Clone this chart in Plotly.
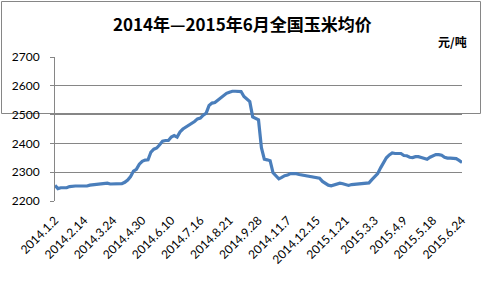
import plotly.graph_objects as go

title_text = "2014年—2015年6月全国玉米均价"
unit_text = "元/吨"
tick_labels = ["2014.1.2", "2014.2.14", "2014.3.24", "2014.4.30", "2014.6.10",
               "2014.7.16", "2014.8.21", "2014.9.28", "2014.11.7", "2014.12.15",
               "2015.1.21", "2015.3.3", "2015.4.9", "2015.5.18", "2015.6.24"]
prices = [
    2254, 2243, 2246, 2247, 2246, 2250, 2252, 2252, 2252, 2252,
    2252, 2252, 2255, 2256, 2256, 2258, 2260, 2260, 2262, 2259,
    2259, 2259, 2259, 2260, 2265, 2273, 2285, 2304, 2310, 2328,
    2338, 2342, 2343, 2370, 2380, 2384, 2395, 2408, 2410, 2410,
    2422, 2427, 2422, 2440, 2450, 2456, 2465, 2470, 2476, 2485,
    2488, 2498, 2505, 2532, 2540, 2542, 2550, 2557, 2567, 2574,
    2578, 2581, 2581, 2581, 2580, 2563, 2552, 2545, 2492, 2488,
    2482, 2385, 2345, 2343, 2340, 2298, 2288, 2277, 2282, 2288,
    2290, 2295, 2295, 2295, 2292, 2290, 2288, 2288, 2286, 2284,
    2281, 2279, 2268, 2262, 2255, 2253, 2256, 2260, 2262, 2260,
    2256, 2254, 2257, 2258, 2260, 2262, 2262, 2263, 2263, 2274,
    2283, 2295, 2315, 2335, 2350, 2360, 2367, 2365, 2365, 2365,
    2358, 2357, 2352, 2351, 2354, 2354, 2351, 2347, 2345, 2352,
    2356, 2361, 2361, 2359, 2352, 2349, 2349, 2349, 2347, 2341,
    2334,
]
y_ticks = [2200, 2300, 2400, 2500, 2600, 2700]

n = len(prices)
step = (n - 1) // (len(tick_labels) - 1)
x_idx = list(range(n))

W, H = 483, 291
ml, mr, mt, mb = 55, 21, 57, 90
pw, ph = W - ml - mr, H - mt - mb

fig = go.Figure()
fig.add_trace(go.Scatter(x=x_idx, y=prices, mode="lines",
                         line=dict(color="#4a7ebb", width=3.2), hoverinfo="skip"))

fig.update_layout(
    width=W, height=H,
    margin=dict(l=ml, r=mr, t=mt, b=mb),
    paper_bgcolor="white", plot_bgcolor="white",
    showlegend=False,
    font=dict(family="Lato, Liberation Sans, sans-serif", size=12, color="black"),
    xaxis=dict(range=[0, n - 1], tickmode="array",
               tickvals=[i * step for i in range(len(tick_labels))],
               ticktext=tick_labels, tickangle=-45, showgrid=False,
               zeroline=False, showline=False, ticks="", ticklabelstandoff=9),
    yaxis=dict(range=[2200, 2700], tickmode="array", tickvals=y_ticks,
               showgrid=True, gridcolor="#868686", gridwidth=1, zeroline=False,
               showline=True, linecolor="#868686", linewidth=1,
               ticks="outside", ticklen=4, tickcolor="#868686",
               ticklabelstandoff=8),
    annotations=[
        dict(text="<b>" + title_text + "</b>", xref="paper", yref="paper",
             x=(242 - ml) / pw, y=1 + (mt - 24) / ph, xanchor="center", yanchor="middle",
             showarrow=False,
             font=dict(family="Noto Sans CJK SC", size=17, color="black")),
        dict(text="<b>" + unit_text + "</b>", xref="paper", yref="paper",
             x=(469 - ml) / pw, y=1 + (mt - 42) / ph, xanchor="right", yanchor="middle",
             showarrow=False,
             font=dict(family="Noto Sans CJK SC", size=12, color="black")),
    ],
    shapes=[
        dict(type="rect", xref="paper", yref="paper",
             x0=(1.5 - ml) / pw, x1=(480.5 - ml) / pw,
             y0=-(H - 288.5 - mb) / ph, y1=1 + (mt - 1.5) / ph,
             line=dict(color="#868686", width=1), fillcolor="rgba(0,0,0,0)",
             layer="below"),
    ],
)

fig.write_html("out.html")
